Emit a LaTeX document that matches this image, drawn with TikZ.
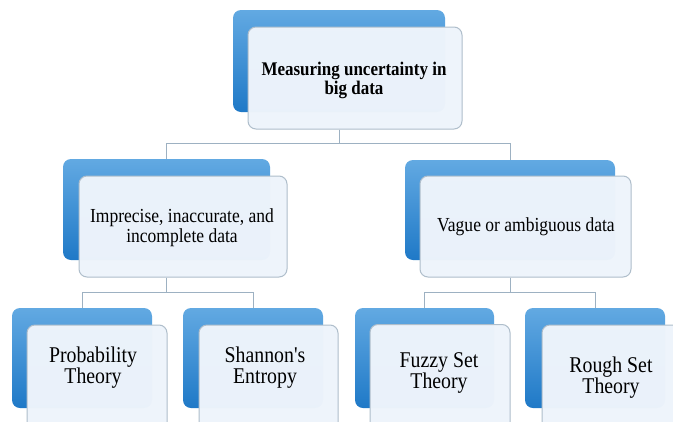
\documentclass[tikz,border=0pt]{standalone}
\usepackage{fontspec}
\setmainfont{Liberation Serif}[FakeStretch=0.88]
\newfontfamily\nodefont[FakeStretch=0.88]{Liberation Serif}
\definecolor{blueT}{HTML}{62A9E2}
\definecolor{blueB}{HTML}{1F79C7}
\definecolor{paleFill}{HTML}{EEF4FB}
\definecolor{paleEdge}{HTML}{AFBECB}
\definecolor{connCol}{HTML}{9DB1C2}
\begin{document}
\begin{tikzpicture}[x=1pt,y=1pt,
  bluebox/.style={rounded corners=8pt, top color=blueT, bottom color=blueB, draw=none, inner sep=0pt},
  palebox/.style={rounded corners=8pt, fill=paleFill, fill opacity=0.98, draw=paleEdge, line width=1pt, inner sep=0pt},
  toplabel/.style={align=center, font=\nodefont\fontsize{19.3}{17.5}\selectfont\bfseries, inner sep=0pt},
  midlabel/.style={align=center, font=\nodefont\fontsize{19.9}{19.5}\selectfont, inner sep=0pt},
  lowlabel/.style={align=center, font=\nodefont\fontsize{22.5}{21}\selectfont, inner sep=0pt},
  conn/.style={draw=connCol, line width=1pt}]
\useasboundingbox (0,0) rectangle (673,-421);
\clip (0,0) rectangle (673,-421);
\fill[white] (0,0) rectangle (673,-421);

% top
\node[bluebox, minimum width=212pt, minimum height=102pt] (topB) at (339,-61) {};
\node[palebox, minimum width=214pt, minimum height=102pt] (topW) at (355,-78) {};
\node[toplabel] (topT) at (354,-80.5) {Measuring uncertainty in\\big data};

% middle left
\node[bluebox, minimum width=207pt, minimum height=101pt] (mLB) at (166.5,-209.5) {};
\node[palebox, minimum width=208pt, minimum height=101pt] (mLW) at (183,-226.5) {};
\node[midlabel] (mLT) at (182,-227.5) {Imprecise, inaccurate, and\\incomplete data};

% middle right
\node[bluebox, minimum width=210pt, minimum height=100pt] (mRB) at (510,-210) {};
\node[palebox, minimum width=211pt, minimum height=101pt] (mRW) at (525.5,-226.5) {};
\node[midlabel] (mRT) at (526,-227) {Vague or ambiguous data};

% bottom row
\node[bluebox, minimum width=140pt, minimum height=100pt] (b1B) at (82,-358) {};
\node[palebox, minimum width=140pt, minimum height=110pt] (b1W) at (97,-380) {};
\node[lowlabel] (b1T) at (93,-367.5) {Probability\\Theory};

\node[bluebox, minimum width=140pt, minimum height=100pt] (b2B) at (253,-358) {};
\node[palebox, minimum width=139pt, minimum height=110pt] (b2W) at (268.5,-380) {};
\node[lowlabel] (b2T) at (265,-367.5) {Shannon's\\Entropy};

\node[bluebox, minimum width=139pt, minimum height=100pt] (b3B) at (424.5,-358) {};
\node[palebox, minimum width=140pt, minimum height=110pt] (b3W) at (440,-379.5) {};
\node[lowlabel] (b3T) at (439,-372.5) {Fuzzy Set\\Theory};

\node[bluebox, minimum width=140pt, minimum height=100pt] (b4B) at (595,-358) {};
\node[palebox, minimum width=140pt, minimum height=110pt] (b4W) at (612,-380) {};
\node[lowlabel] (b4T) at (611,-377.5) {Rough Set\\Theory};

% connectors
\draw[conn] (topB.south |- topW.south) -- ++(0,-14) -| (mLB.north);
\draw[conn] (topB.south |- topW.south) -- ++(0,-14) -| (mRB.north);
\draw[conn] (mLB.south |- mLW.south) -- ++(0,-15) -| (b1B.north);
\draw[conn] (mLB.south |- mLW.south) -- ++(0,-15) -| (b2B.north);
\draw[conn] (mRB.south |- mRW.south) -- ++(0,-15) -| (b3B.north);
\draw[conn] (mRB.south |- mRW.south) -- ++(0,-15) -| (b4B.north);
\end{tikzpicture}
\end{document}
